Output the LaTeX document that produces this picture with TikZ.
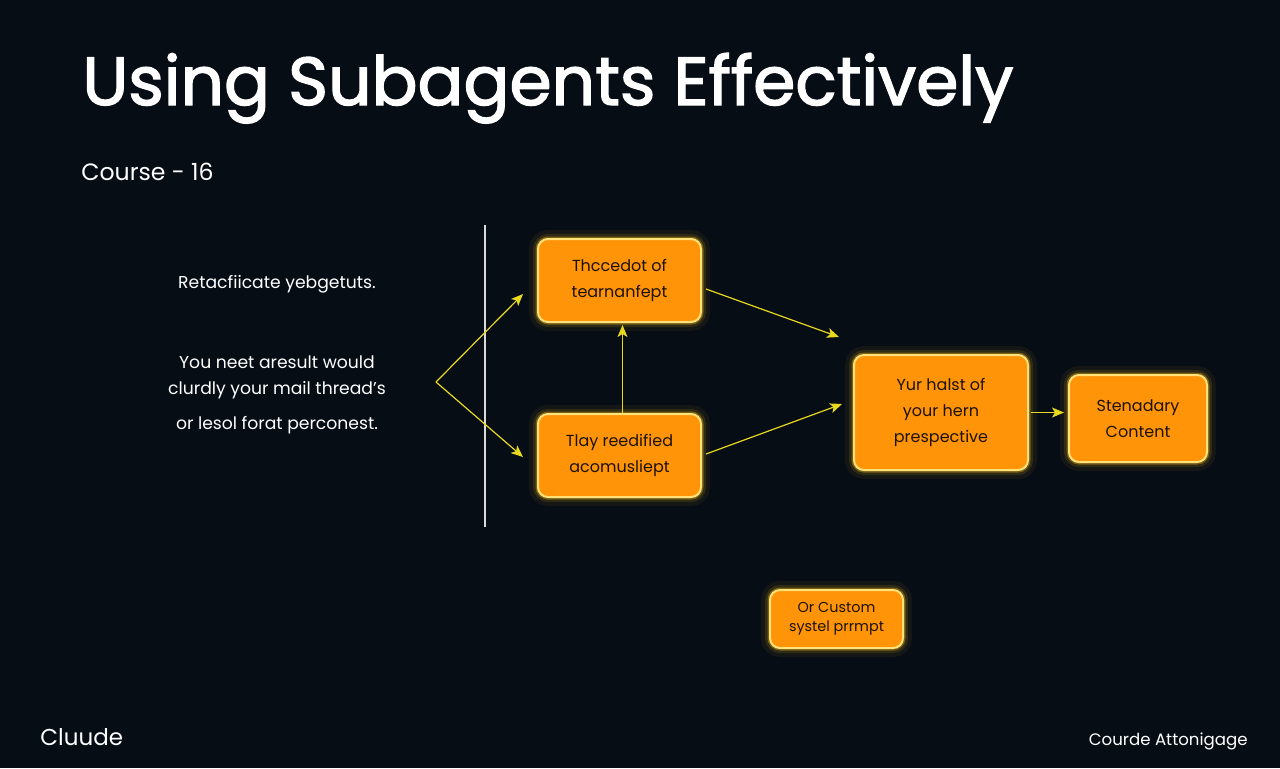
\documentclass[tikz,border=0pt]{standalone}
\usepackage{fontspec}
\setmainfont{Poppins}
\newfontfamily\titlefont{Poppins}[FakeBold=2]
\usetikzlibrary{arrows.meta}

\definecolor{bgdark}{HTML}{060D15}
\definecolor{boxorange}{HTML}{FF9408}
\definecolor{boxedge}{HTML}{FFE27A}
\definecolor{glowyellow}{HTML}{FFC21A}
\definecolor{linkyellow}{HTML}{E8D81E}
\definecolor{boxtext}{HTML}{1C1204}

\tikzset{
  glowbox/.style={
    draw=boxedge, line width=1pt, fill=boxorange, rounded corners=5pt,
    text=boxtext, align=center, inner sep=0pt,
    preaction={draw=glowyellow, line width=9pt, opacity=0.06},
    preaction={draw=glowyellow, line width=5pt, opacity=0.12},
    preaction={draw=glowyellow, line width=2.5pt, opacity=0.35},
    font=\fontsize{8}{13}\selectfont},
  link/.style={draw=linkyellow, line width=0.6pt,
    -{Stealth[length=6pt,width=5pt,inset=1.5pt]}},
  plaintext/.style={text=white, align=center}
}

\begin{document}
\begin{tikzpicture}[x=0.5pt, y=-0.5pt]
  % Background
  \fill[bgdark] (0,0) rectangle (1280,768);

  % Titles
  \node[plaintext, anchor=base west, inner sep=0pt] (title) at (82,105)
    {\titlefont\fontsize{34}{40}\selectfont Using Subagents Effectively};
  \node[plaintext, anchor=base west, inner sep=0pt] (course) at (81,180)
    {\fontsize{11.8}{14}\selectfont Course - 16};

  % Left text
  \node[plaintext, font=\fontsize{8.6}{13}\selectfont] (intro) at (277,284)
    {Retacfiicate yebgetuts.};
  \node[plaintext, font=\fontsize{8.6}{13}\selectfont] (need) at (277,395)
    {You neet aresult would\\ clurdly your mail thread's\\[4.5pt] or lesol forat perconest.};

  % Divider
  \draw[white!85!black, line width=0.8pt] (485,225) -- (485,527);

  % Boxes
  \node[glowbox, minimum width=81.5pt, minimum height=41.5pt] (draft) at (619.5,280.5)
    {Thccedot of\\ tearnanfept};
  \node[glowbox, minimum width=81.5pt, minimum height=41.5pt] (redo) at (619.5,455.5)
    {Tlay reedified\\ acomusliept};
  \node[glowbox, minimum width=87pt, minimum height=57.5pt] (view) at (941,412.5)
    {Yur halst of\\ your hern\\ prespective};
  \node[glowbox, minimum width=69pt, minimum height=43.5pt] (content) at (1138,418.5)
    {Stenadary\\ Content};
  \node[glowbox, minimum width=66.5pt, minimum height=29pt,
    font=\fontsize{7.2}{9.5}\selectfont] (prompt) at (836.5,619)
    {Or Custom\\ systel prrmpt};

  % Connectors
  \coordinate (fork) at (436,382);
  \draw[link] (fork) -- ([shift={(-7pt,-6.75pt)}]draft.west);
  \draw[link] (fork) -- ([shift={(-7pt,-0.75pt)}]redo.west);
  \draw[link] ([xshift=1.5pt]redo.north) -- ([xshift=1.5pt,yshift=-1pt]draft.south);
  \draw[link] ([shift={(2pt,-4.25pt)}]draft.east) -- ([shift={(-7pt,8.5pt)}]view.north west);
  \draw[link] ([shift={(2pt,0.75pt)}]redo.east) -- ([shift={(-5.5pt,4.25pt)}]view.west);
  \draw[link] ([xshift=1pt]view.east) -- ([xshift=-2pt]content.west |- view.east);

  % Footer
  \node[plaintext, anchor=base west, inner sep=0pt] (brand) at (40,745)
    {\fontsize{11.5}{14}\selectfont Cluude};
  \node[plaintext, anchor=base east, inner sep=0pt] (footer) at (1248,745)
    {\fontsize{8.3}{11}\selectfont Courde Attonigage};
\end{tikzpicture}
\end{document}
